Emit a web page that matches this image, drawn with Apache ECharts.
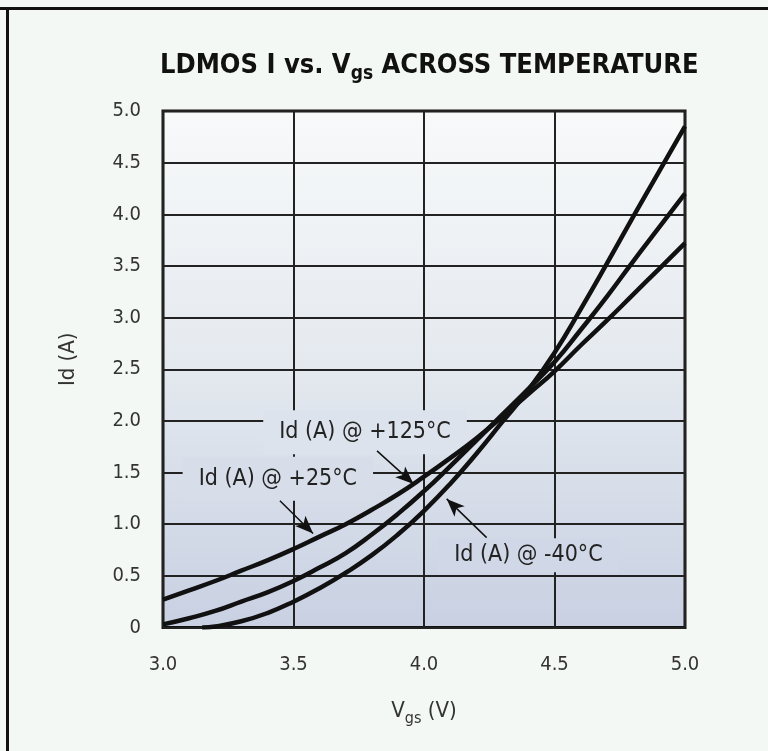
<!DOCTYPE html>
<html>
<head>
<meta charset="utf-8">
<script src="https://cdn.jsdelivr.net/npm/echarts@6/dist/echarts.min.js"></script>
<style>
html,body{margin:0;padding:0;background:#f4f8f4;}
#c{width:768px;height:751px;}
</style>
</head>
<body>
<div id="c"></div>
<script>
// ---- data ----
const xTicks = [3.0, 3.5, 4.0, 4.5, 5.0];
const yTicks = [0, 0.5, 1.0, 1.5, 2.0, 2.5, 3.0, 3.5, 4.0, 4.5, 5.0];

const vgs25 = [3.0, 3.1, 3.2, 3.3, 3.4, 3.5, 3.6, 3.7, 3.8, 3.9, 4.0, 4.1, 4.2, 4.3, 4.4, 4.5, 4.6, 4.7, 4.8, 4.9, 5.0];
const id25  = [0.27, 0.36, 0.45, 0.55, 0.65, 0.76, 0.88, 1.0, 1.14, 1.29, 1.46, 1.64, 1.83, 2.04, 2.26, 2.48, 2.73, 2.97, 3.22, 3.47, 3.72];

const vgs125 = [3.0, 3.1, 3.2, 3.3, 3.4, 3.5, 3.6, 3.7, 3.8, 3.9, 4.0, 4.1, 4.2, 4.3, 4.4, 4.5, 4.6, 4.7, 4.8, 4.9, 5.0];
const id125  = [0.03, 0.09, 0.16, 0.25, 0.34, 0.45, 0.58, 0.72, 0.9, 1.1, 1.32, 1.56, 1.81, 2.06, 2.31, 2.57, 2.88, 3.2, 3.54, 3.87, 4.2];

const vgsM40 = [3.15, 3.2, 3.3, 3.4, 3.5, 3.6, 3.7, 3.8, 3.9, 4.0, 4.1, 4.2, 4.3, 4.4, 4.5, 4.6, 4.7, 4.8, 4.9, 5.0];
const idM40  = [0.0, 0.01, 0.06, 0.14, 0.25, 0.38, 0.53, 0.7, 0.9, 1.13, 1.39, 1.68, 1.99, 2.3, 2.66, 3.08, 3.52, 3.97, 4.41, 4.85];

const labelTexts = ['Id (A) @ +25°C', 'Id (A) @ +125°C', 'Id (A) @ -40°C'];
const labelPos   = [[3.44, 1.44], [3.774, 1.89], [4.40, 0.70]];
const labelPad   = [[8, 16, 8, 16], [8, 16, 8, 16], [12, 16, 0, 16]];
const labelLH    = [28, 28, 22];
const arrowFrom  = [[3.448, 1.227], [3.82, 1.71], [4.24, 0.87]];
const arrowTo    = [[3.575, 0.91], [3.96, 1.39], [4.087, 1.245]];

// ---- chart ----
const FONT = "'DejaVu Sans Condensed','Liberation Sans Narrow',sans-serif";
const zip = (a, b) => a.map((v, i) => [v, b[i]]);

const bgStops = [[0, [248, 250, 250]], [0.5, [228, 233, 239]], [1, [200, 208, 226]]];
function bgAt(f) {
  for (let i = 1; i < bgStops.length; i++) {
    if (f <= bgStops[i][0]) {
      const [f0, c0] = bgStops[i - 1], [f1, c1] = bgStops[i];
      const t = (f - f0) / (f1 - f0);
      return 'rgb(' + c0.map((c, k) => Math.round(c + (c1[k] - c) * t)).join(',') + ')';
    }
  }
  return 'rgb(' + bgStops[bgStops.length - 1][1].join(',') + ')';
}

const chart = echarts.init(document.getElementById('c'), null, {renderer: 'canvas'});
const curveStyle = {color: '#111', width: 4.5};

const markPoints = labelTexts.map((t, i) => ({
  coord: labelPos[i], symbol: 'circle', symbolSize: 0,
  label: {
    show: true, position: 'inside', formatter: t,
    fontFamily: FONT, fontSize: 23, color: '#222', lineHeight: labelLH[i],
    backgroundColor: bgAt(1 - labelPos[i][1] / 5), padding: labelPad[i]
  }
}));
const markLines = labelTexts.map((t, i) => [
  {coord: arrowFrom[i], symbol: 'none'},
  {coord: arrowTo[i], symbol: 'arrow', symbolSize: [11, 18]}
]);

chart.setOption({
  backgroundColor: '#f4f8f4',
  animation: false,
  title: {
    left: 155, top: 47,
    text: '{a|LDMOS I vs. V}{s|gs}{a| ACROSS TEMPERATURE}',
    textStyle: {
      rich: {
        a: {fontFamily: FONT, fontWeight: 'bold', fontSize: 27, color: '#111', lineHeight: 30, verticalAlign: 'top'},
        s: {fontFamily: FONT, fontWeight: 'bold', fontSize: 19, color: '#111', lineHeight: 20, padding: [14, 0, 0, 0]}
      }
    }
  },
  grid: {left: 163, right: 83, top: 111, bottom: 123.5, show: true,
    backgroundColor: {type: 'linear', x: 0, y: 0, x2: 0, y2: 1,
      colorStops: bgStops.map(s => ({offset: s[0], color: 'rgb(' + s[1].join(',') + ')'}))},
    borderColor: '#111', borderWidth: 3},
  xAxis: {
    type: 'value', min: 3.0, max: 5.0, interval: 0.5,
    name: '{a|V}{s|gs}{a| (V)}', nameLocation: 'middle', nameGap: 73,
    nameTextStyle: {rich: {
      a: {fontFamily: FONT, fontSize: 22, color: '#333', lineHeight: 24, verticalAlign: 'top'},
      s: {fontFamily: FONT, fontSize: 16, color: '#333', lineHeight: 16, padding: [12, 0, 0, 0]}
    }},
    axisLine: {show: false}, axisTick: {show: false},
    axisLabel: {fontFamily: FONT, fontSize: 20, color: '#333', margin: 27,
      formatter: v => v.toFixed(1)},
    splitLine: {show: true, lineStyle: {color: '#222', width: 2}}
  },
  yAxis: {
    type: 'value', min: 0, max: 5.0, interval: 0.5,
    name: 'Id (A)', nameLocation: 'middle', nameGap: 84,
    nameTextStyle: {fontFamily: FONT, fontSize: 22, color: '#333', padding: [0, 0, 0, 20]},
    axisLine: {show: false}, axisTick: {show: false},
    axisLabel: {fontFamily: FONT, fontSize: 20, color: '#333', margin: 22,
      formatter: v => v === 0 ? '0' : v.toFixed(1)},
    splitLine: {show: true, lineStyle: {color: '#222', width: 2}}
  },
  series: [
    {name: '+25', type: 'line', data: zip(vgs25, id25), smooth: true, showSymbol: false, lineStyle: curveStyle, z: 3,
      markPoint: {data: markPoints, z: 1},
      markLine: {silent: true, data: markLines, label: {show: false},
        lineStyle: {color: '#111', width: 1.5, type: 'solid'}, z: 6}},
    {name: '+125', type: 'line', data: zip(vgs125, id125), smooth: true, showSymbol: false, lineStyle: curveStyle, z: 3},
    {name: '-40', type: 'line', data: zip(vgsM40, idM40), smooth: true, showSymbol: false, lineStyle: curveStyle, z: 3}
  ],
  graphic: [
    {type: 'rect', left: 0, top: 7, shape: {width: 768, height: 3}, style: {fill: '#111'}, z: 100},
    {type: 'rect', left: 6, top: 7, shape: {width: 3, height: 744}, style: {fill: '#111'}, z: 100}
  ]
});
</script>
</body>
</html>
